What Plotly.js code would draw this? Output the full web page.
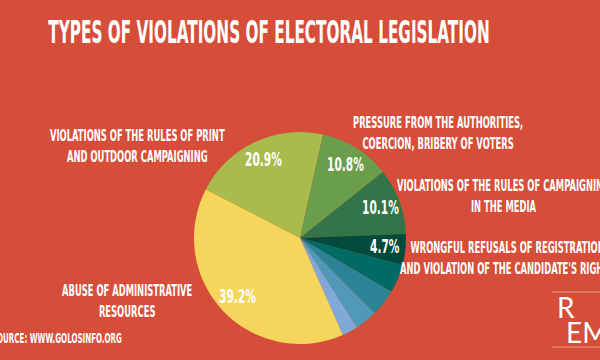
<!DOCTYPE html>
<html>
<head>
<meta charset="utf-8">
<script src="https://cdn.plot.ly/plotly-3.0.1.min.js"></script>
<style>
  html, body { margin: 0; padding: 0; background: #D64E39; }
  #chart { width: 600px; height: 360px; }
</style>
</head>
<body>
<div id="chart"></div>
<script>
// ---- data ----
const categories = [
  "Violations of the rules of print and outdoor campaigning",
  "Pressure from the authorities, coercion, bribery of voters",
  "Violations of the rules of campaigning in the media",
  "Wrongful refusals of registration and violation of the candidate's rights",
  "Other violations 1",
  "Other violations 2",
  "Other violations 3",
  "Other violations 4",
  "Abuse of administrative resources"
];
const values = [20.9, 10.8, 10.1, 4.7, 4.4, 4.1, 3.4, 2.4, 39.2];
const sliceColors = ["#A9BC4B", "#6A9E4B", "#337548", "#004B3B", "#006A66", "#2B8395", "#4F99B7", "#80A8D8", "#F5D55B"];
const labelTexts = [
  "VIOLATIONS OF THE RULES OF PRINT<br>AND OUTDOOR CAMPAIGNING",
  "PRESSURE FROM THE AUTHORITIES,<br>COERCION, BRIBERY OF VOTERS",
  "VIOLATIONS OF THE RULES OF CAMPAIGNING<br>IN THE MEDIA",
  "WRONGFUL REFUSALS OF REGISTRATION<br>AND VIOLATION OF THE CANDIDATE'S RIGHTS",
  "ABUSE OF ADMINISTRATIVE<br>RESOURCES"
];
const titleText = "TYPES OF VIOLATIONS OF ELECTORAL LEGISLATION";
const sourceText = "SOURCE: WWW.GOLOSINFO.ORG";

// ---- layout helpers ----
const W = 600, H = 360;
const px = x => x / W;
const py = y => 1 - y / H;
const FONT = "'DejaVu Sans Condensed', 'Liberation Sans Narrow', sans-serif";
const WHITE = "#FFFFFF";
const ROTATION = -62.7;

// pie geometry (pixels)
const CX = 300, CY = 238, R = 106;

const trace = {
  type: "pie",
  labels: categories,
  values: values,
  textinfo: "none",
  sort: false,
  direction: "clockwise",
  rotation: ROTATION,
  marker: { colors: sliceColors, line: { width: 0 } },
  hoverinfo: "none",
  domain: { x: [px(CX - R), px(CX + R)], y: [py(CY + R), py(CY - R)] },
  showlegend: false
};

const annotations = [];
const stretchFactors = [];

// percentage labels derived from the values (mid-angle of each slice)
const total = values.reduce((a, b) => a + b, 0);
let cum = 0;
values.forEach(v => {
  const mid = ROTATION + (cum + v / 2) / total * 360;
  cum += v;
  if (v < 4.5) return;
  const a = mid * Math.PI / 180;
  const d = 0.81 * R;
  annotations.push({
    text: v.toFixed(1) + "%", xref: "paper", yref: "paper",
    x: px(CX + d * Math.sin(a)), y: py(CY - d * Math.cos(a)),
    xanchor: "center", yanchor: "middle", showarrow: false,
    font: { family: FONT, size: 11.8, color: WHITE, weight: 700 }
  });
  stretchFactors.push(1.6);
});

const labelPos = [
  [137, 145.5], [438, 132], [503, 195], [507, 257], [127.5, 300.5]
];
labelTexts.forEach((t, i) => {
  annotations.push({
    text: t, xref: "paper", yref: "paper",
    x: px(labelPos[i][0]), y: py(labelPos[i][1]),
    xanchor: "center", yanchor: "middle", align: "center",
    showarrow: false, font: { family: FONT, size: 9.34, color: WHITE, weight: 700 }
  });
  stretchFactors.push(1.75);
});
annotations.push({
  text: sourceText, xref: "paper", yref: "paper",
  x: px(124), y: py(338), xanchor: "right", yanchor: "middle",
  showarrow: false, font: { family: FONT, size: 7.9, color: WHITE, weight: 700 }
});
stretchFactors.push(1.8);

const logoFont = { family: "Lato, 'Open Sans', sans-serif", size: 28, color: WHITE, weight: 400 };
annotations.push({
  text: "R", xref: "paper", yref: "paper", x: px(555), y: py(307),
  xanchor: "left", yanchor: "middle", showarrow: false, font: logoFont
});
stretchFactors.push(1);
annotations.push({
  text: "EM", xref: "paper", yref: "paper", x: px(564), y: py(332),
  xanchor: "left", yanchor: "middle", showarrow: false, font: logoFont
});
stretchFactors.push(1);

const shapes = [
  { type: "line", xref: "paper", yref: "paper", x0: px(552), x1: 1.05, y0: py(292), y1: py(292),
    line: { color: "rgba(255,255,255,0.45)", width: 1 } },
  { type: "line", xref: "paper", yref: "paper", x0: px(552), x1: 1.05, y0: py(347), y1: py(347),
    line: { color: "rgba(255,255,255,0.45)", width: 1 } }
];

const layout = {
  width: W, height: H,
  margin: { l: 0, r: 0, t: 0, b: 0 },
  paper_bgcolor: "#D64E39",
  plot_bgcolor: "#D64E39",
  title: {
    text: titleText, x: px(269), xanchor: "center", xref: "paper",
    y: py(32), yanchor: "middle", yref: "paper",
    font: { family: FONT, size: 17, color: WHITE, weight: 700 }
  },
  annotations: annotations,
  shapes: shapes
};

function stretchEl(t, s) {
  if (!t || !t.textContent || s === 1) return;
  const b = t.getBBox();
  const cx = b.x + b.width / 2, cy = b.y + b.height / 2;
  const prev = t.getAttribute("transform") || "";
  t.setAttribute("transform", prev + " translate(" + cx + " " + cy + ") scale(1 " + s + ") translate(" + (-cx) + " " + (-cy) + ")");
}

Plotly.newPlot("chart", [trace], layout, { displayModeBar: false, staticPlot: true }).then(() => {
  document.querySelectorAll(".gtitle").forEach(t => stretchEl(t, 1.9));
  document.querySelectorAll("g.annotation").forEach(g => {
    const i = +g.getAttribute("data-index");
    stretchEl(g.querySelector(".annotation-text"), stretchFactors[i]);
  });
});
</script>
</body>
</html>
